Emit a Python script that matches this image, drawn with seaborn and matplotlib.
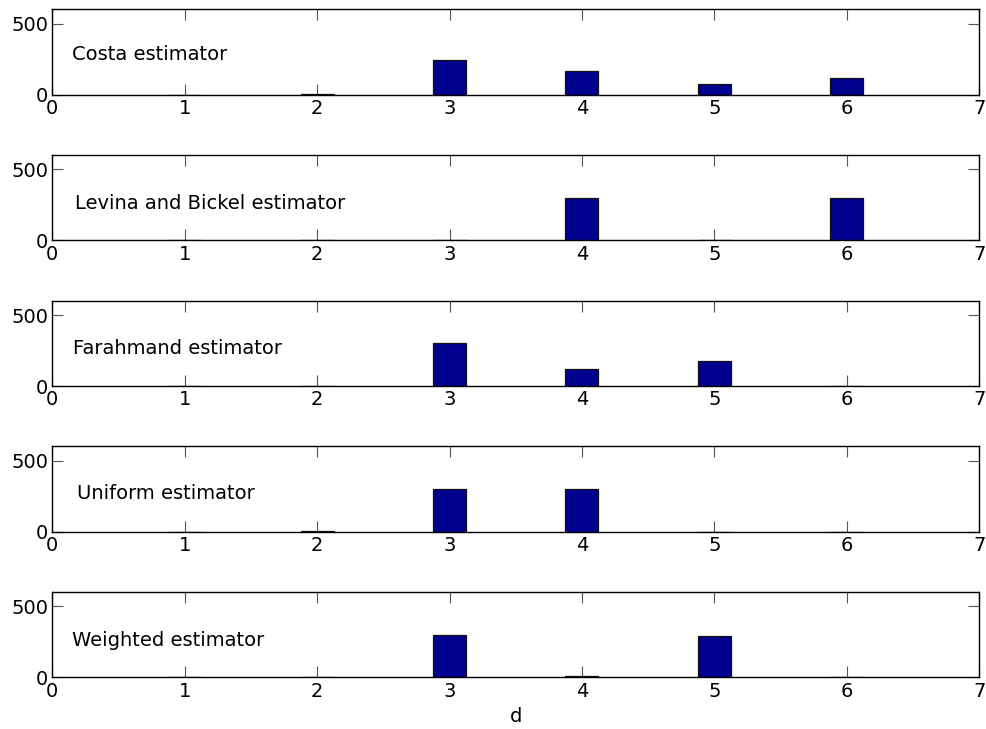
import matplotlib
matplotlib.use("Agg")
import matplotlib.pyplot as plt
import seaborn as sns
import pandas as pd

# Histogram of estimated intrinsic dimension d for each estimator
d_values = [1, 2, 3, 4, 5, 6]
estimators = [
    "Costa estimator",
    "Levina and Bickel estimator",
    "Farahmand estimator",
    "Uniform estimator",
    "Weighted estimator",
]
costa = [0, 3, 246, 168, 76, 121]
levina_bickel = [0, 0, 0, 300, 0, 300]
farahmand = [0, 0, 300, 122, 178, 0]
uniform = [0, 3, 300, 300, 0, 0]
weighted = [0, 0, 300, 12, 288, 0]
counts = [costa, levina_bickel, farahmand, uniform, weighted]

x_ticks = [0, 1, 2, 3, 4, 5, 6, 7]
y_ticks = [0, 500]
label_pos = [(0.15, 280), (0.17, 262), (0.16, 264), (0.19, 266), (0.15, 258)]

sns.set_style("ticks")
plt.rcParams["font.family"] = ["DejaVu Sans"]
plt.rcParams["font.size"] = 14

fig = plt.figure(figsize=(9.87, 7.29), dpi=100)
left, right = 0.053, 0.992
top_first, height, step = 0.987, 0.117, 0.1998

for i, (name, vals) in enumerate(zip(estimators, counts)):
    top = top_first - i * step
    ax = fig.add_axes([left, top - height, right - left, height])
    df = pd.DataFrame({"d": d_values, "count": vals})
    sns.barplot(data=df, x="d", y="count", native_scale=True, orient="x",
                width=0.25, color="#00008F", saturation=1,
                edgecolor="#111111", linewidth=0.9, ax=ax)
    ax.set_xlim(0, 7)
    ax.set_ylim(0, 600)
    ax.set_xticks(x_ticks)
    ax.set_xticklabels([str(t) for t in x_ticks])
    ax.set_yticks(y_ticks)
    ax.set_yticklabels([str(t) for t in y_ticks])
    ax.tick_params(direction="in", top=True, right=True, length=8,
                   width=0.8, color="#555555", labelsize=14, pad=3,
                   labelcolor="black")
    for s in ax.spines.values():
        s.set_visible(True)
        s.set_color("black")
        s.set_linewidth(1.0)
    ax.set_ylabel("")
    ax.set_xlabel("d" if i == len(estimators) - 1 else "", fontsize=14,
                  labelpad=5, color="black")
    lx, ly = label_pos[i]
    ax.text(lx, ly, name, fontsize=14, va="center", ha="left", color="black")

fig.savefig("out.png", dpi=100)
